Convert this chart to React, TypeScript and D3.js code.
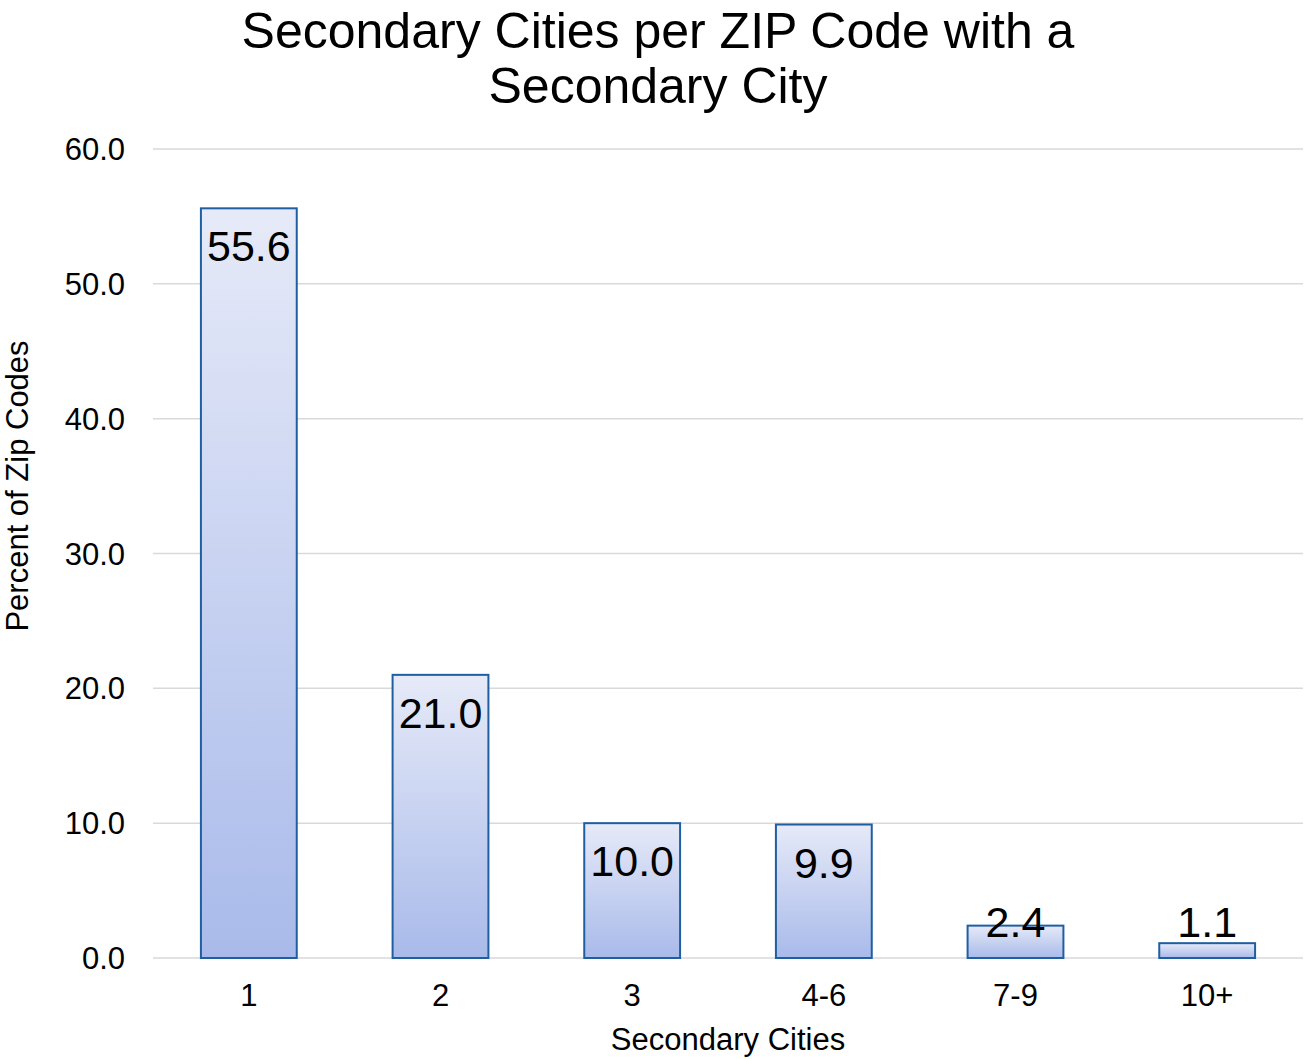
import React from 'react';
import * as d3 from 'd3';

const categories = ['1', '2', '3', '4-6', '7-9', '10+'];
const values = [55.6, 21.0, 10.0, 9.9, 2.4, 1.1];
const yTicks = [0, 10, 20, 30, 40, 50, 60];

const W = 1307;
const H = 1059;
const margin = { left: 153, right: 4, top: 149, bottom: 101 };
const FONT = 'Arial, "Liberation Sans", sans-serif';

export default function App() {
  const x = d3.scaleBand<string>()
    .domain(categories)
    .range([margin.left, W - margin.right])
    .paddingInner(0.5)
    .paddingOuter(0.25);

  const y = d3.scaleLinear()
    .domain([0, 60])
    .range([H - margin.bottom, margin.top]);

  const y0 = y(0);

  return (
    <svg width={W} height={H} style={{ position: 'absolute', left: 0, top: 0 }} fontFamily={FONT}>
      <defs>
        <linearGradient id="barGrad" x1="0" y1="0" x2="0" y2="1">
          <stop offset="0%" stopColor="#e6eaf8" />
          <stop offset="100%" stopColor="#a9baea" />
        </linearGradient>
      </defs>
      <rect width={W} height={H} fill="#fff" />

      {/* title */}
      <text x={658} y={48} fontSize={50} textAnchor="middle" fill="#000">
        Secondary Cities per ZIP Code with a
      </text>
      <text x={658} y={103} fontSize={50} textAnchor="middle" fill="#000">
        Secondary City
      </text>

      {/* gridlines + y ticks */}
      {yTicks.map(t => (
        <g key={t}>
          <line x1={margin.left} x2={W - margin.right} y1={y(t)} y2={y(t)}
            stroke="#d9d9d9" strokeWidth={1.5} />
          <text x={125} y={y(t) + 11} fontSize={31} textAnchor="end" fill="#000">
            {t.toFixed(1)}
          </text>
        </g>
      ))}

      {/* bars */}
      {values.map((v, i) => {
        const bx = x(categories[i])!;
        const top = y(v);
        const labelY = Math.min(top + 53, 937);
        return (
          <g key={categories[i]}>
            <rect x={bx} y={top} width={x.bandwidth()} height={y0 - top}
              fill="url(#barGrad)" stroke="#1f5fa0" strokeWidth={2} />
            <text x={bx + x.bandwidth() / 2} y={labelY} fontSize={43}
              textAnchor="middle" fill="#000">
              {v.toFixed(1)}
            </text>
          </g>
        );
      })}

      {/* x labels */}
      {categories.map(c => (
        <text key={c} x={x(c)! + x.bandwidth() / 2} y={1006} fontSize={31}
          textAnchor="middle" fill="#000">
          {c}
        </text>
      ))}

      {/* axis titles */}
      <text x={728} y={1050} fontSize={31} textAnchor="middle" fill="#000">
        Secondary Cities
      </text>
      <text transform={`translate(28, 486) rotate(-90)`} fontSize={31}
        textAnchor="middle" fill="#000">
        Percent of Zip Codes
      </text>
    </svg>
  );
}
